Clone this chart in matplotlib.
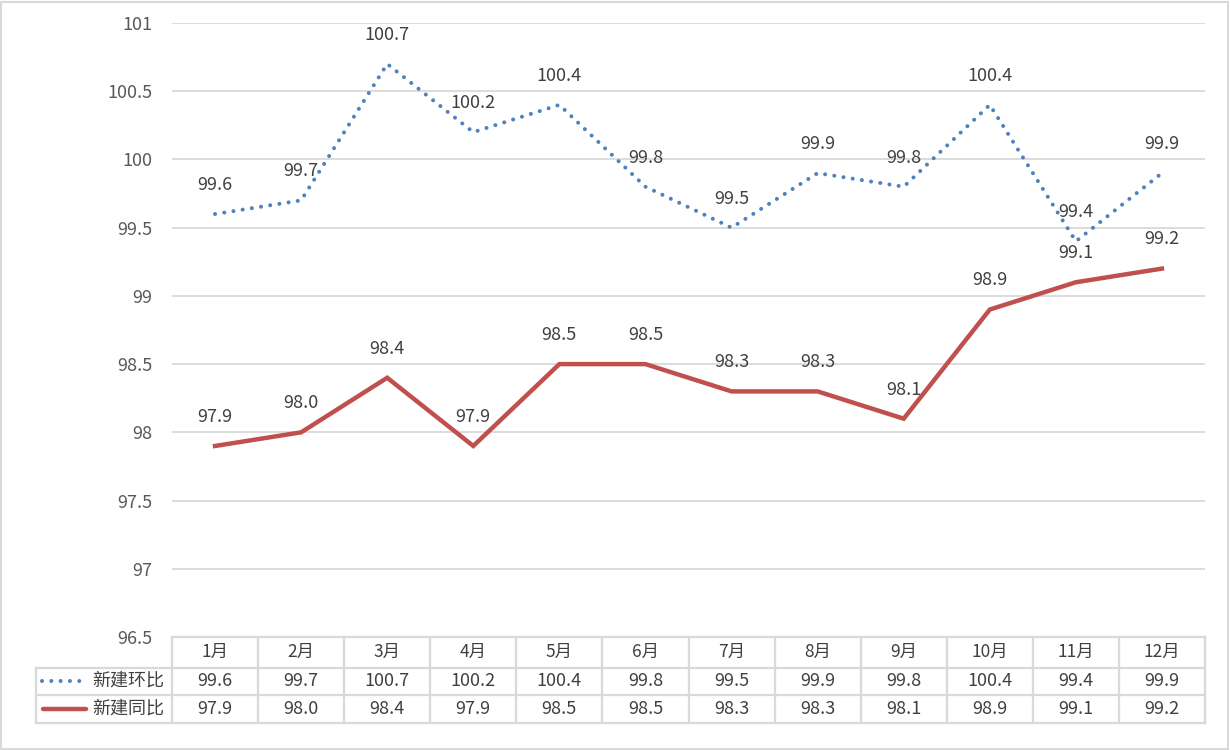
import matplotlib
matplotlib.use("Agg")
import matplotlib.pyplot as plt
import matplotlib.transforms as mtransforms
from matplotlib.patches import Rectangle
import numpy as np

plt.rcParams['font.family'] = ['Noto Sans CJK SC', 'DejaVu Sans']

months = ['1月', '2月', '3月', '4月', '5月', '6月', '7月', '8月', '9月', '10月', '11月', '12月']
huanbi = [99.6, 99.7, 100.7, 100.2, 100.4, 99.8, 99.5, 99.9, 99.8, 100.4, 99.4, 99.9]
tongbi = [97.9, 98.0, 98.4, 97.9, 98.5, 98.5, 98.3, 98.3, 98.1, 98.9, 99.1, 99.2]
series_names = ['新建环比', '新建同比']
yticks = [96.5, 97, 97.5, 98, 98.5, 99, 99.5, 100, 100.5, 101]

blue = '#4F81BD'
red = '#C0504D'
grid_c = '#D9D9D9'
txt_c = '#404040'
fs = 13
blue_lw = 2.9
blue_ls = (0, (0.01, 2.3))
red_lw = 3.2

fig = plt.figure(figsize=(12.3, 7.5), dpi=100)
# light border round the whole chart
fig.patches.append(Rectangle((0.001, 0.002), 0.9975, 0.996, transform=fig.transFigure,
                             fill=False, edgecolor='#D9D9D9', linewidth=1.5))
ax = fig.add_axes([172 / 1230, 1 - 637 / 750, (1205 - 172) / 1230, 614 / 750])

x = np.arange(len(months))
ax.plot(x, huanbi, color=blue, linewidth=blue_lw, linestyle=blue_ls,
        dash_capstyle='round', zorder=3)
ax.plot(x, tongbi, color=red, linewidth=red_lw, solid_joinstyle='miter', zorder=3)

for xi, v in zip(x, huanbi):
    ax.annotate(f'{v:.1f}', (xi, v), xytext=(0, 21), textcoords='offset points',
                ha='center', va='center', fontsize=fs, color=txt_c, zorder=4)
for xi, v in zip(x, tongbi):
    ax.annotate(f'{v:.1f}', (xi, v), xytext=(0, 21), textcoords='offset points',
                ha='center', va='center', fontsize=fs, color=txt_c, zorder=4)

ax.set_xlim(-0.5, len(months) - 0.5)
ax.set_ylim(96.5, 101)
ax.set_yticks(yticks)
ax.set_yticklabels([f'{t:g}' for t in yticks], fontsize=fs, color='#595959')
ax.tick_params(axis='y', length=0, pad=14)
ax.tick_params(axis='x', length=0, labelbottom=False)
ax.yaxis.grid(True, color=grid_c, linewidth=1.3)
ax.set_axisbelow(True)
for s in ax.spines.values():
    s.set_visible(False)

# data table under the plot: x in data units, y in axes fraction
tr = mtransforms.blended_transform_factory(ax.transData, ax.transAxes)
px = 614.0
r0, r1, r2, r3 = 0.0, -30.5 / px, -57.5 / px, -85.5 / px
unit = (1205 - 172) / 12
left = -0.5 - (172 - 36) / unit
right = len(months) - 0.5
line_kw = dict(color=grid_c, linewidth=1.6, transform=tr, clip_on=False, zorder=1)
ax.plot([-0.5, right], [r0, r0], **line_kw)
for yy in (r1, r2, r3):
    ax.plot([left, right], [yy, yy], **line_kw)
for b in np.arange(-0.5, right + 0.01, 1.0):
    ax.plot([b, b], [r0, r3], **line_kw)
ax.plot([left, left], [r1, r3], **line_kw)

for xi, m in enumerate(months):
    ax.text(xi, (r0 + r1) / 2, m, transform=tr, ha='center', va='center',
            fontsize=fs - 0.5, color=txt_c)
    ax.text(xi, (r1 + r2) / 2, f'{huanbi[xi]:.1f}', transform=tr, ha='center',
            va='center', fontsize=fs, color=txt_c)
    ax.text(xi, (r2 + r3) / 2, f'{tongbi[xi]:.1f}', transform=tr, ha='center',
            va='center', fontsize=fs, color=txt_c)

# legend keys inside the table
ym1 = (r1 + r2) / 2
ym2 = (r2 + r3) / 2
ax.plot([left + 6 / unit, left + 46 / unit], [ym1, ym1], color=blue, linewidth=blue_lw,
        linestyle=blue_ls, dash_capstyle='round', transform=tr, clip_on=False)
ax.plot([left + 7 / unit, left + 50 / unit], [ym2, ym2], color=red, linewidth=red_lw,
        solid_capstyle='round', transform=tr, clip_on=False)
ax.text(left + 56 / unit, ym1, series_names[0], transform=tr, ha='left', va='center',
        fontsize=fs, color=txt_c)
ax.text(left + 56 / unit, ym2, series_names[1], transform=tr, ha='left', va='center',
        fontsize=fs, color=txt_c)

fig.savefig('out.png', dpi=100)
